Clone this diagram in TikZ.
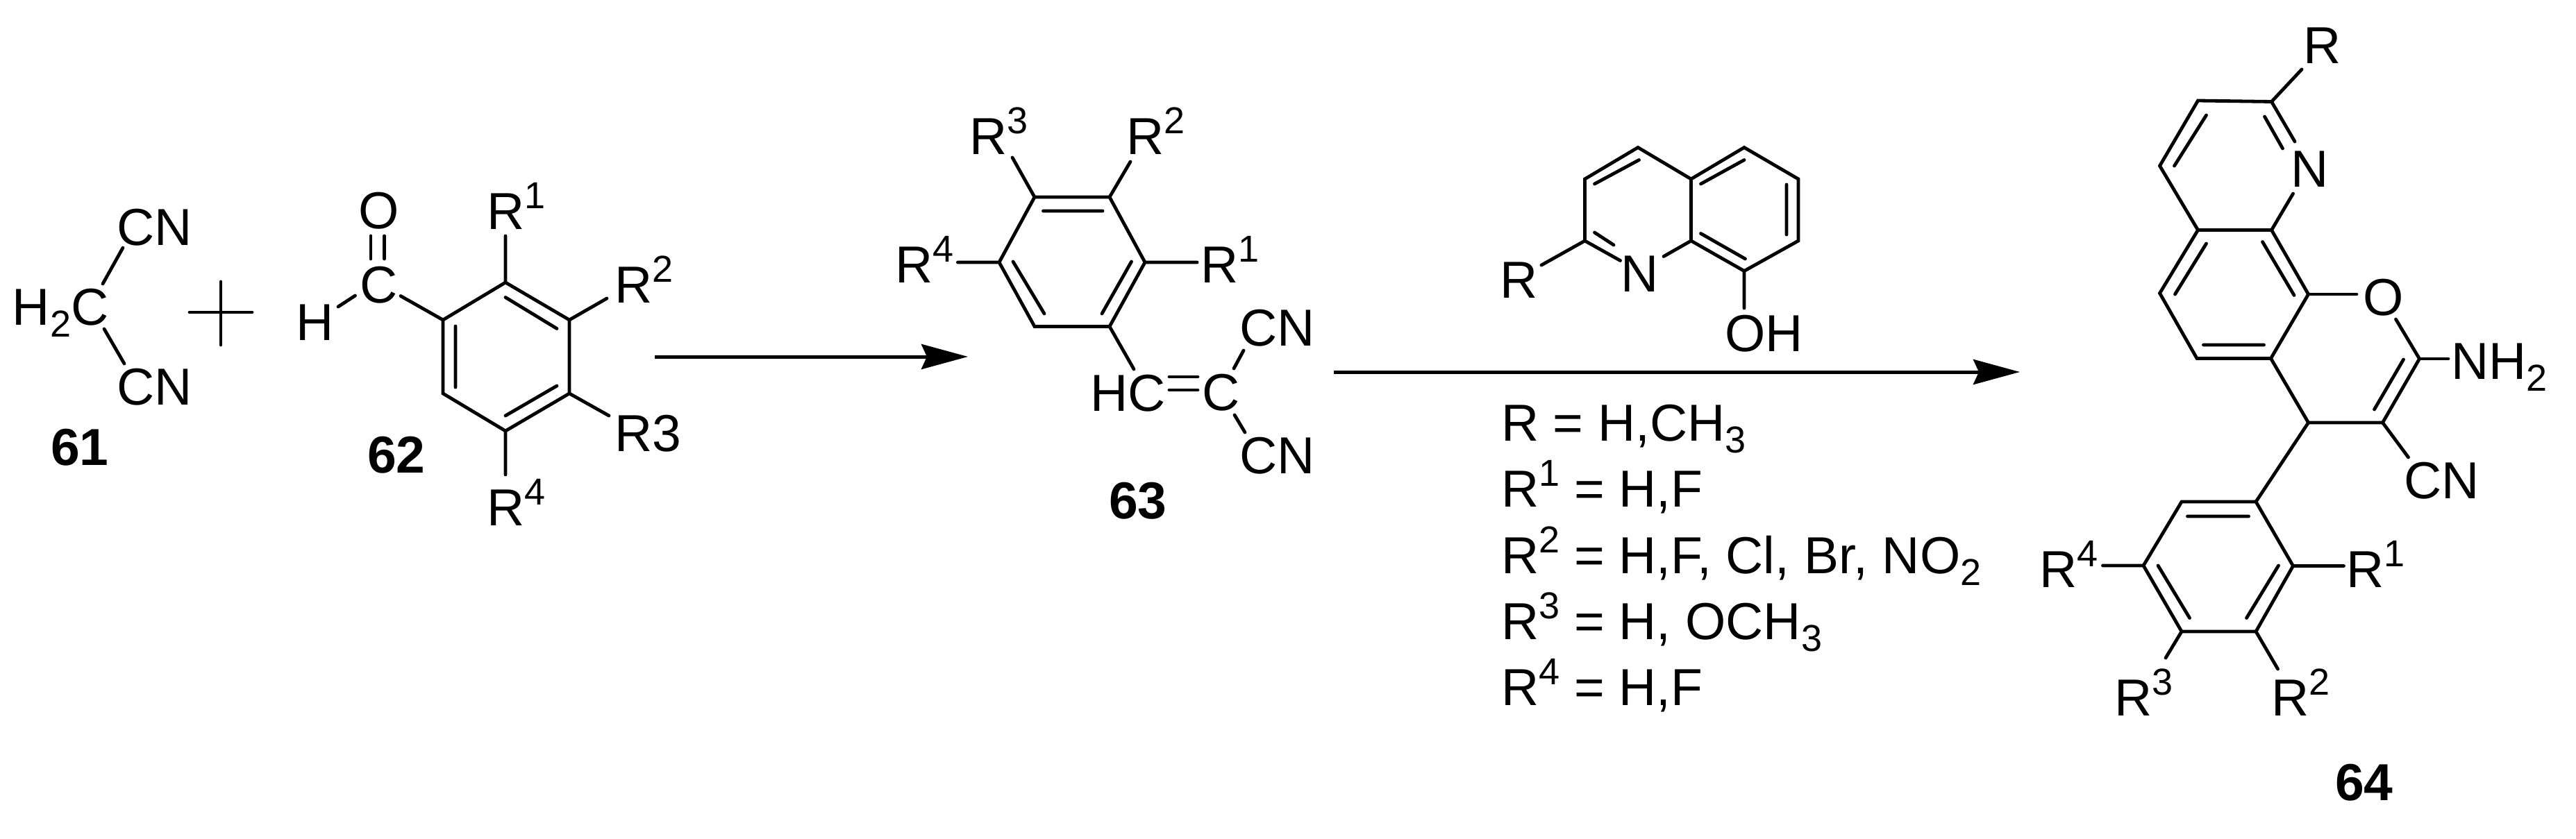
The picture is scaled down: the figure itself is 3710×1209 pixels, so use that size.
\documentclass[tikz,border=0pt]{standalone}
\usepackage{fontspec}
\setmainfont{Liberation Sans}
\usetikzlibrary{arrows.meta}
\newcommand{\supn}[1]{\raisebox{15pt}{\fontsize{27}{32}\selectfont #1}}
\newcommand{\subn}[1]{\raisebox{-8.5pt}{\fontsize{27}{32}\selectfont #1}}
\tikzset{
  bond/.style={line width=2.4pt,line cap=round,line join=miter},
  rxn/.style={line width=2.5pt,-{Stealth[length=33.5pt,width=18pt,inset=4pt]}},
  lab/.style={anchor=base west,inner sep=0pt,outer sep=0pt,font=\fontsize{37.5}{45}\selectfont,text=black},
  num/.style={lab,font=\fontsize{37.5}{45}\selectfont\bfseries},
}
\begin{document}
\begin{tikzpicture}[x=0.5pt,y=-0.5pt]
\fill[white] (0,0) rectangle (3710,1209);
\useasboundingbox (0,0) rectangle (3710,1209);

% ---------- 61
\node[lab] (cnA) at (168,353) {CN};
\node[lab] (hc) at (18,468) {H\subn{2}C};
\node[lab] (cnB) at (168,583) {CN};
\node[num] (n61) at (73,670) {61};
\path coordinate (a1) at (177,357) coordinate (a2) at (148,409)
      coordinate (a3) at (150,474) coordinate (a4) at (179,524);
\draw[bond] (a1)--(a2) (a3)--(a4);

% plus, drawn as crossing lines
\path coordinate (p1) at (273,450) coordinate (p2) at (363,450)
      coordinate (p3) at (318,406) coordinate (p4) at (318,497);
\draw[bond] (p1)--(p2) (p3)--(p4);

% ---------- 62
\node[lab] (h62) at (426,490) {H};
\node[lab] (c62) at (518,436) {C};
\node[lab] (o62) at (516,329) {O};
\node[num] (n62) at (529,681) {62};
\node[lab] (r1b) at (701,330) {R\supn{1}};
\node[lab] (r2b) at (885,436) {R\supn{2}};
\node[lab] (r3b) at (885,650) {R3};
\node[lab] (r4b) at (701,757) {R\supn{4}};
\path coordinate (b1) at (728,407) coordinate (b2) at (820,461)
      coordinate (b3) at (820,567) coordinate (b4) at (728,621)
      coordinate (b5) at (638,567) coordinate (b6) at (638,461);
\draw[bond] (b1)--(b2)--(b3)--(b4)--(b5)--(b6)--cycle;
\draw[bond] (728,428.5)--(802,473.5) (802,556)--(728,599) (656,470)--(656,558);
\draw[bond] (534,340)--(534,373) (553.5,340)--(553.5,373);
\draw[bond] (487,442)--(511.5,426);
\draw[bond] (577,426.5)--(b6);
\draw[bond] (728,340)--(b1) (874,430)--(b2) (877,599)--(b3) (b4)--(728,684);

% arrow 1
\coordinate (s1) at (943,514); \coordinate (e1) at (1394,514);
\draw[rxn] (s1)--(e1);

% ---------- 63
\node[lab] (r3c) at (1396,223) {R\supn{3}};
\node[lab] (r2c) at (1622,223) {R\supn{2}};
\node[lab] (r4c) at (1289,407) {R\supn{4}};
\node[lab] (r1c) at (1729,407) {R\supn{1}};
\node[lab] (hcc) at (1570,592) {HC};
\node[lab] (cc) at (1731,591) {C};
\node[lab] (cnC) at (1785,498) {CN};
\node[lab] (cnD) at (1785,682) {CN};
\node[num] (n63) at (1597,747) {63};
\path coordinate (c1) at (1490,284) coordinate (c2) at (1598,284)
      coordinate (c3) at (1649,378) coordinate (c4) at (1598,470.5)
      coordinate (c5) at (1490,470.5) coordinate (c6) at (1439,378);
\draw[bond] (c1)--(c2)--(c3)--(c4)--(c5)--(c6)--cycle;
\draw[bond] (1502.5,304)--(1588,304) (1629.5,377)--(1587,452) (1459,377)--(1504,452);
\draw[bond] (1458,227)--(c1) (1628,233)--(c2) (1379.5,378)--(c6) (1724,378)--(c3);
\draw[bond] (c4)--(1633,532);
\draw[bond] (1684,543)--(1725,543) (1684,562)--(1725,562);
\draw[bond] (1777,531)--(1791,505) (1778,598)--(1793,623);

% arrow 2
\coordinate (s2) at (1921,536); \coordinate (e2) at (2909,536);
\draw[rxn] (s2)--(e2);

% ---------- quinolinol
\node[lab] (rq) at (2160,429) {R};
\node[lab] (nq) at (2334,420) {N};
\node[lab] (ohq) at (2484,506) {OH};
\path coordinate (q1) at (2359,212.5) coordinate (q2) at (2282.5,258)
      coordinate (q3) at (2282.5,347) coordinate (q4) at (2435.5,347)
      coordinate (q5) at (2435.5,258) coordinate (q6) at (2512,212.5)
      coordinate (q7) at (2590,258) coordinate (q8) at (2590,347)
      coordinate (q9) at (2512,390.5);
\draw[bond] (2333.5,375.5)--(q3)--(q2)--(q1)--(q5)--(q6)--(q7)--(q8)--(q9)--(q4)--(2396,369.5);
\draw[bond] (q4)--(q5);
\draw[bond] (2360.5,230.5)--(2296.5,265) (2449.5,265)--(2512,230.5)
            (2573,266)--(2573,338) (2449.5,336.5)--(2513.5,373)
            (2296.5,335)--(2324,353);
\draw[bond] (q3)--(2220,382) (q9)--(2512,444);

% ---------- conditions
\node[lab] (l1) at (2162,635) {R = H,CH\subn{3}};
\node[lab] (l2) at (2162,730.5) {R\supn{1} = H,F};
\node[lab] (l3) at (2162,826) {R\supn{2} = H,F, Cl, Br, NO\subn{2}};
\node[lab] (l4) at (2162,921.5) {R\supn{3} = H, OCH\subn{3}};
\node[lab] (l5) at (2162,1016.5) {R\supn{4} = H,F};

% ---------- 64
\node[lab] (rd) at (3317,92) {R};
\node[lab] (nd) at (3299,270) {N};
\node[lab] (od) at (3403,454) {O};
\node[lab] (nh) at (3530,546) {NH\subn{2}};
\node[lab] (cnE) at (3462,718) {CN};
\node[lab] (r1d) at (3379,846) {R\supn{1}};
\node[lab] (r4d) at (2937,846) {R\supn{4}};
\node[lab] (r3d) at (3045,1031) {R\supn{3}};
\node[lab] (r2d) at (3271,1031) {R\supn{2}};
\node[num] (n64) at (3363,1153) {64};
\path coordinate (d1) at (3165.5,145) coordinate (d2) at (3271.5,146.5)
      coordinate (d3) at (3271.5,331.5) coordinate (d4) at (3165.5,331.5)
      coordinate (d5) at (3110.5,239) coordinate (d6) at (3110.5,422.5)
      coordinate (d7) at (3164,516.5) coordinate (d8) at (3270.5,516.5)
      coordinate (d9) at (3324.5,424) coordinate (d10) at (3484.5,517)
      coordinate (d11) at (3431.5,609) coordinate (d12) at (3324.5,609);
\draw[bond] (3305,204)--(d2)--(d1)--(d5)--(d4)--(d3)--(3302.5,279);
\draw[bond] (d4)--(d6)--(d7)--(d8)--(d9)--(d3);
\draw[bond] (d9)--(3394,424);
\draw[bond] (3450.5,460)--(d10)--(d11)--(d12)--(d8);
\draw[bond] (d10)--(3526,517);
\draw[bond] (d11)--(3468.5,659);
\draw[bond] (d2)--(3315,100);
\draw[bond] (3261.5,168)--(3287.5,214) (3177.5,166)--(3131.5,239)
            (3177.5,351)--(3132.5,424) (3258.5,348.5)--(3304,425.5)
            (3173.5,497)--(3260.5,497) (3461.5,518)--(3419.5,590);
\path coordinate (f1) at (3249,723) coordinate (f2) at (3142,723)
      coordinate (f3) at (3087,815) coordinate (f4) at (3142,910)
      coordinate (f5) at (3249,910) coordinate (f6) at (3302.5,815.5);
\draw[bond] (f1)--(f2)--(f3)--(f4)--(f5)--(f6)--cycle;
\draw[bond] (d12)--(f1);
\draw[bond] (3150.5,744)--(3238.5,744) (3108,815)--(3153.5,890.5) (3281.5,815)--(3235.5,890.5);
\draw[bond] (f6)--(3375.5,815.5) (f3)--(3028.5,815) (f4)--(3119,948) (f5)--(3280.5,964);
\end{tikzpicture}
\end{document}
